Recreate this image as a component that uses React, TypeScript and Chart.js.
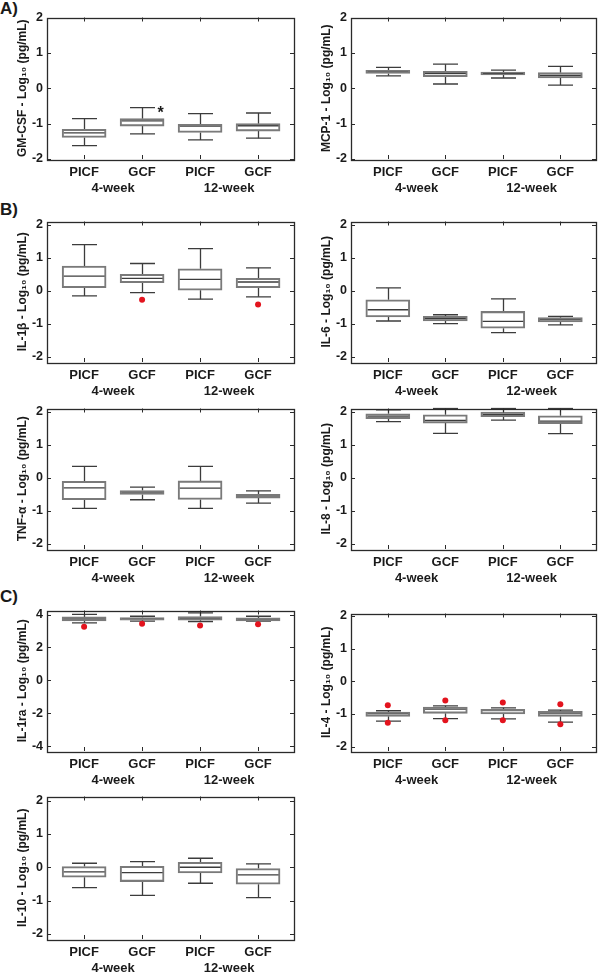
import React, { useEffect, useRef } from 'react';
import { Chart, registerables } from 'chart.js';

Chart.register(...registerables);

const FONT = "'Liberation Sans', Arial, Helvetica, sans-serif";
const LETTER_FONT = "'Liberation Sans', Arial, sans-serif";
const TEXT = '#1a1a1a';
const BOX = '#7a7a7a';
const LINE = '#3c3c3c';
const FRAME = '#2a2a2a';
const RED = '#e3141e';

const categories = ['PICF', 'GCF', 'PICF', 'GCF'];
const groupLabels = ['4-week', '12-week'];
const groupPositions = [1.5, 3.5];
const yTicksTwo = [-2, -1, 0, 1, 2];
const yTicksFour = [-4, -2, 0, 2, 4];

// A) GM-CSF
const gmcsfLow = [-1.62, -1.29, -1.46, -1.41];
const gmcsfQ1 = [-1.39, -1.07, -1.25, -1.21];
const gmcsfMedian = [-1.26, -0.92, -1.07, -1.06];
const gmcsfQ3 = [-1.16, -0.86, -1.02, -1.0];
const gmcsfHigh = [-0.86, -0.55, -0.72, -0.7];
const gmcsfMarks = ['', '*', '', ''];

// A) MCP-1
const mcp1Low = [0.35, 0.12, 0.29, 0.09];
const mcp1Q1 = [0.42, 0.33, 0.38, 0.29];
const mcp1Median = [0.47, 0.42, 0.42, 0.36];
const mcp1Q3 = [0.51, 0.48, 0.46, 0.44];
const mcp1High = [0.59, 0.68, 0.51, 0.62];

// B) IL-1β
const il1bLow = [-0.15, -0.05, -0.25, -0.18];
const il1bQ1 = [0.1, 0.25, 0.02, 0.1];
const il1bMedian = [0.45, 0.38, 0.35, 0.27];
const il1bQ3 = [0.75, 0.5, 0.67, 0.38];
const il1bHigh = [1.4, 0.83, 1.28, 0.7];
const il1bOutliers = [null, -0.27, null, -0.41];

// B) IL-6
const il6Low = [-0.91, -0.99, -1.26, -1.03];
const il6Q1 = [-0.79, -0.91, -1.13, -0.94];
const il6Median = [-0.57, -0.84, -0.92, -0.87];
const il6Q3 = [-0.27, -0.77, -0.62, -0.81];
const il6High = [0.09, -0.72, -0.24, -0.77];

// B) TNF-α
const tnfLow = [-0.92, -0.66, -0.92, -0.76];
const tnfQ1 = [-0.66, -0.5, -0.65, -0.61];
const tnfMedian = [-0.3, -0.45, -0.31, -0.56];
const tnfQ3 = [-0.1, -0.38, -0.09, -0.5];
const tnfHigh = [0.35, -0.28, 0.35, -0.39];

// B) IL-8
const il8Low = [1.7, 1.35, 1.75, 1.34];
const il8Q1 = [1.79, 1.66, 1.85, 1.64];
const il8Median = [1.87, 1.74, 1.92, 1.72];
const il8Q3 = [1.94, 1.91, 1.99, 1.88];
const il8High = [2.06, 2.1, 2.1, 2.1];

// C) IL-1ra
const il1raLow = [3.5, 3.6, 3.58, 3.6];
const il1raQ1 = [3.62, 3.66, 3.66, 3.62];
const il1raMedian = [3.74, 3.74, 3.76, 3.72];
const il1raQ3 = [3.86, 3.82, 3.88, 3.8];
const il1raHigh = [4.02, 3.9, 4.1, 3.9];
const il1raOutliers = [3.26, 3.44, 3.34, 3.42];

// C) IL-4
const il4Low = [-1.22, -1.14, -1.15, -1.25];
const il4Q1 = [-1.07, -0.98, -1.0, -1.07];
const il4Median = [-0.99, -0.85, -0.89, -0.97];
const il4Q3 = [-0.94, -0.79, -0.86, -0.92];
const il4High = [-0.9, -0.75, -0.81, -0.88];
const il4OutliersHigh = [-0.73, -0.59, -0.65, -0.7];
const il4OutliersLow = [-1.27, -1.19, -1.19, -1.31];

// C) IL-10
const il10Low = [-0.61, -0.84, -0.48, -0.91];
const il10Q1 = [-0.3, -0.43, -0.17, -0.51];
const il10Median = [-0.14, -0.16, 0.0, -0.23];
const il10Q3 = [0.02, 0.03, 0.15, -0.04];
const il10High = [0.12, 0.17, 0.27, 0.1];

type Col = { left: number; areaLeft: number; areaRight: number; titlePad: number };
const COLS: Col[] = [
  { left: 0, areaLeft: 47, areaRight: 294, titlePad: 15 },
  { left: 300, areaLeft: 351, areaRight: 596, titlePad: 19 },
];

type Spec = {
  title: string;
  col: number;
  top: number;
  bottom: number;
  yMin: number;
  yMax: number;
  yTicks: number[];
  low: number[];
  q1: number[];
  median: number[];
  q3: number[];
  high: number[];
  outliers: (number | null)[][];
  marks?: string[];
};

const PANELS: Spec[] = [
  { title: 'GM-CSF - Log₁₀ (pg/mL)', col: 0, top: 16, bottom: 159, yMin: -2, yMax: 2, yTicks: yTicksTwo,
    low: gmcsfLow, q1: gmcsfQ1, median: gmcsfMedian, q3: gmcsfQ3, high: gmcsfHigh, outliers: [], marks: gmcsfMarks },
  { title: 'MCP-1 - Log₁₀ (pg/mL)', col: 1, top: 16, bottom: 159, yMin: -2, yMax: 2, yTicks: yTicksTwo,
    low: mcp1Low, q1: mcp1Q1, median: mcp1Median, q3: mcp1Q3, high: mcp1High, outliers: [] },
  { title: 'IL-1β - Log₁₀ (pg/mL)', col: 0, top: 220, bottom: 362, yMin: -2.15, yMax: 2.1, yTicks: yTicksTwo,
    low: il1bLow, q1: il1bQ1, median: il1bMedian, q3: il1bQ3, high: il1bHigh, outliers: [il1bOutliers] },
  { title: 'IL-6 - Log₁₀ (pg/mL)', col: 1, top: 220, bottom: 362, yMin: -2.15, yMax: 2.1, yTicks: yTicksTwo,
    low: il6Low, q1: il6Q1, median: il6Median, q3: il6Q3, high: il6High, outliers: [] },
  { title: 'TNF-α - Log₁₀ (pg/mL)', col: 0, top: 407, bottom: 549, yMin: -2.15, yMax: 2.1, yTicks: yTicksTwo,
    low: tnfLow, q1: tnfQ1, median: tnfMedian, q3: tnfQ3, high: tnfHigh, outliers: [] },
  { title: 'IL-8 - Log₁₀ (pg/mL)', col: 1, top: 407, bottom: 549, yMin: -2.15, yMax: 2.1, yTicks: yTicksTwo,
    low: il8Low, q1: il8Q1, median: il8Median, q3: il8Q3, high: il8High, outliers: [] },
  { title: 'IL-1ra - Log₁₀ (pg/mL)', col: 0, top: 609, bottom: 751, yMin: -4.3, yMax: 4.25, yTicks: yTicksFour,
    low: il1raLow, q1: il1raQ1, median: il1raMedian, q3: il1raQ3, high: il1raHigh, outliers: [il1raOutliers] },
  { title: 'IL-4 - Log₁₀ (pg/mL)', col: 1, top: 612, bottom: 751, yMin: -2.13, yMax: 2.07, yTicks: yTicksTwo,
    low: il4Low, q1: il4Q1, median: il4Median, q3: il4Q3, high: il4High, outliers: [il4OutliersHigh, il4OutliersLow] },
  { title: 'IL-10 - Log₁₀ (pg/mL)', col: 0, top: 795, bottom: 939, yMin: -2.15, yMax: 2.12, yTicks: yTicksTwo,
    low: il10Low, q1: il10Q1, median: il10Median, q3: il10Q3, high: il10High, outliers: [] },
];

const X_MIN = 0.36;
const X_MAX = 4.62;
const PAD_TOP = 10;
const X_H = 22;
const X2_H = 20;
const BOX_W = 44;
const CAP_W = 25;

function Panel({ spec }: { spec: Spec }) {
  const ref = useRef<HTMLCanvasElement | null>(null);
  const col = COLS[spec.col];
  const height = spec.bottom - spec.top + PAD_TOP + X_H + X2_H;

  useEffect(() => {
    if (!ref.current) return;
    const tickFont = { family: FONT, size: 12.5, weight: 'bold' as const };
    const labelFont = { family: FONT, size: 13, weight: 'bold' as const };
    const titleFont = { family: FONT, size: 12, weight: 'bold' as const };

    const outlierPoints: { x: number; y: number }[] = [];
    spec.outliers.forEach((arr) => {
      arr.forEach((v, i) => {
        if (v !== null && v !== undefined) outlierPoints.push({ x: i + 1, y: v });
      });
    });

    const plugin = {
      id: 'boxWhiskers',
      beforeDatasetsDraw(chart: any) {
        const { ctx, chartArea, scales } = chart;
        const xs = scales.x;
        const ys = scales.y;
        ctx.save();
        ctx.beginPath();
        ctx.rect(chartArea.left, chartArea.top - 1, chartArea.right - chartArea.left, chartArea.bottom - chartArea.top + 2);
        ctx.clip();
        ctx.strokeStyle = LINE;
        ctx.lineWidth = 1.3;
        const seg = (x1: number, y1: number, x2: number, y2: number) => {
          ctx.beginPath();
          ctx.moveTo(x1, y1);
          ctx.lineTo(x2, y2);
          ctx.stroke();
        };
        categories.forEach((_, i) => {
          const cx = Math.round(xs.getPixelForValue(i + 1)) + 0.5;
          const yHigh = ys.getPixelForValue(spec.high[i]);
          const yLow = ys.getPixelForValue(spec.low[i]);
          const yQ1 = ys.getPixelForValue(spec.q1[i]);
          const yQ3 = ys.getPixelForValue(spec.q3[i]);
          const yMed = ys.getPixelForValue(spec.median[i]);
          seg(cx, yQ3, cx, yHigh);
          seg(cx, yQ1, cx, yLow);
          seg(cx - CAP_W / 2, yHigh, cx + CAP_W / 2, yHigh);
          seg(cx - CAP_W / 2, yLow, cx + CAP_W / 2, yLow);
          seg(cx - BOX_W / 2 + 1, yMed, cx + BOX_W / 2 - 1, yMed);
        });
        ctx.restore();
      },
      afterDraw(chart: any) {
        const { ctx, chartArea, scales } = chart;
        const { left, right, top, bottom } = chartArea;
        ctx.save();
        ctx.strokeStyle = FRAME;
        ctx.lineWidth = 1.3;
        ctx.strokeRect(Math.round(left) + 0.5, Math.round(top) + 0.5, Math.round(right - left), Math.round(bottom - top));
        ctx.lineWidth = 1;
        const L = 4;
        scales.y.ticks.forEach((t: any) => {
          const py = Math.round(scales.y.getPixelForValue(t.value)) + 0.5;
          ctx.beginPath();
          ctx.moveTo(left, py);
          ctx.lineTo(left + L, py);
          ctx.moveTo(right, py);
          ctx.lineTo(right - L, py);
          ctx.stroke();
        });
        scales.x.ticks.forEach((t: any) => {
          const px = Math.round(scales.x.getPixelForValue(t.value)) + 0.5;
          ctx.beginPath();
          ctx.moveTo(px, top);
          ctx.lineTo(px, top + L);
          ctx.moveTo(px, bottom);
          ctx.lineTo(px, bottom - L);
          ctx.stroke();
        });
        if (spec.marks) {
          ctx.fillStyle = TEXT;
          ctx.font = `bold 16px ${LETTER_FONT}`;
          ctx.textAlign = 'left';
          ctx.textBaseline = 'alphabetic';
          spec.marks.forEach((m, i) => {
            if (!m) return;
            const px = scales.x.getPixelForValue(i + 1) + CAP_W / 2 + 3;
            const py = scales.y.getPixelForValue(spec.high[i]) + 10;
            ctx.fillText(m, px, py);
          });
        }
        ctx.restore();
      },
    };

    const chart = new Chart(ref.current, {
      type: 'bar',
      data: {
        datasets: [
          {
            type: 'bar',
            data: categories.map((_, i) => ({ x: i + 1, y: [spec.q1[i], spec.q3[i]] })) as any,
            backgroundColor: 'rgba(255,255,255,0)',
            borderColor: BOX,
            borderWidth: 1.4,
            borderSkipped: false,
            barThickness: BOX_W,
            order: 2,
          } as any,
          {
            type: 'line',
            data: outlierPoints as any,
            showLine: false,
            pointRadius: 3,
            pointHoverRadius: 3,
            pointBackgroundColor: RED,
            pointBorderColor: RED,
            pointBorderWidth: 0,
            order: 1,
          } as any,
        ],
      },
      options: {
        animation: false,
        responsive: false,
        maintainAspectRatio: false,
        events: [],
        layout: { padding: { top: PAD_TOP, left: 0, right: col.left + 300 - col.areaRight, bottom: 0 } },
        plugins: { legend: { display: false }, tooltip: { enabled: false }, title: { display: false } },
        scales: {
          x: {
            type: 'linear',
            position: 'bottom',
            weight: 0,
            min: X_MIN,
            max: X_MAX,
            offset: false,
            afterBuildTicks: (s: any) => {
              s.ticks = categories.map((_, i) => ({ value: i + 1 }));
            },
            afterFit: (s: any) => {
              s.height = X_H;
            },
            grid: { display: false, drawTicks: false },
            border: { display: false },
            ticks: {
              autoSkip: false,
              maxRotation: 0,
              padding: 6,
              color: TEXT,
              font: labelFont,
              callback: (_v: any, i: number) => categories[i],
            },
          },
          x2: {
            type: 'linear',
            position: 'bottom',
            weight: 1,
            min: X_MIN,
            max: X_MAX,
            offset: false,
            afterBuildTicks: (s: any) => {
              s.ticks = groupPositions.map((v) => ({ value: v }));
            },
            afterFit: (s: any) => {
              s.height = X2_H;
            },
            grid: { display: false, drawTicks: false },
            border: { display: false },
            ticks: {
              autoSkip: false,
              maxRotation: 0,
              padding: 0,
              color: TEXT,
              font: labelFont,
              callback: (_v: any, i: number) => groupLabels[i],
            },
          },
          y: {
            type: 'linear',
            position: 'left',
            min: spec.yMin,
            max: spec.yMax,
            afterBuildTicks: (s: any) => {
              s.ticks = spec.yTicks.map((v) => ({ value: v }));
            },
            afterFit: (s: any) => {
              s.width = col.areaLeft - col.left;
            },
            grid: { display: false, drawTicks: false },
            border: { display: false },
            ticks: {
              padding: 4,
              color: TEXT,
              font: tickFont,
              callback: (v: any) => String(v),
            },
            title: {
              display: true,
              text: spec.title,
              color: TEXT,
              font: titleFont,
              padding: col.titlePad,
            },
          },
        },
      } as any,
      plugins: [plugin as any],
    });
    return () => chart.destroy();
  }, [spec]);

  return (
    <canvas
      ref={ref}
      width={300}
      height={height}
      style={{ position: 'absolute', left: col.left, top: spec.top - PAD_TOP, width: 300, height }}
    />
  );
}

const letterStyle: React.CSSProperties = {
  position: 'absolute',
  left: 0,
  fontFamily: LETTER_FONT,
  fontWeight: 'bold',
  fontSize: 17,
  lineHeight: '17px',
  color: TEXT,
};

export default function App() {
  return (
    <div style={{ position: 'absolute', left: 0, top: 0, width: 600, height: 973, background: '#ffffff', overflow: 'hidden' }}>
      <div style={{ ...letterStyle, top: 0 }}>A)</div>
      <div style={{ ...letterStyle, top: 201 }}>B)</div>
      <div style={{ ...letterStyle, top: 588 }}>C)</div>
      {PANELS.map((p, i) => (
        <Panel key={i} spec={p} />
      ))}
    </div>
  );
}
